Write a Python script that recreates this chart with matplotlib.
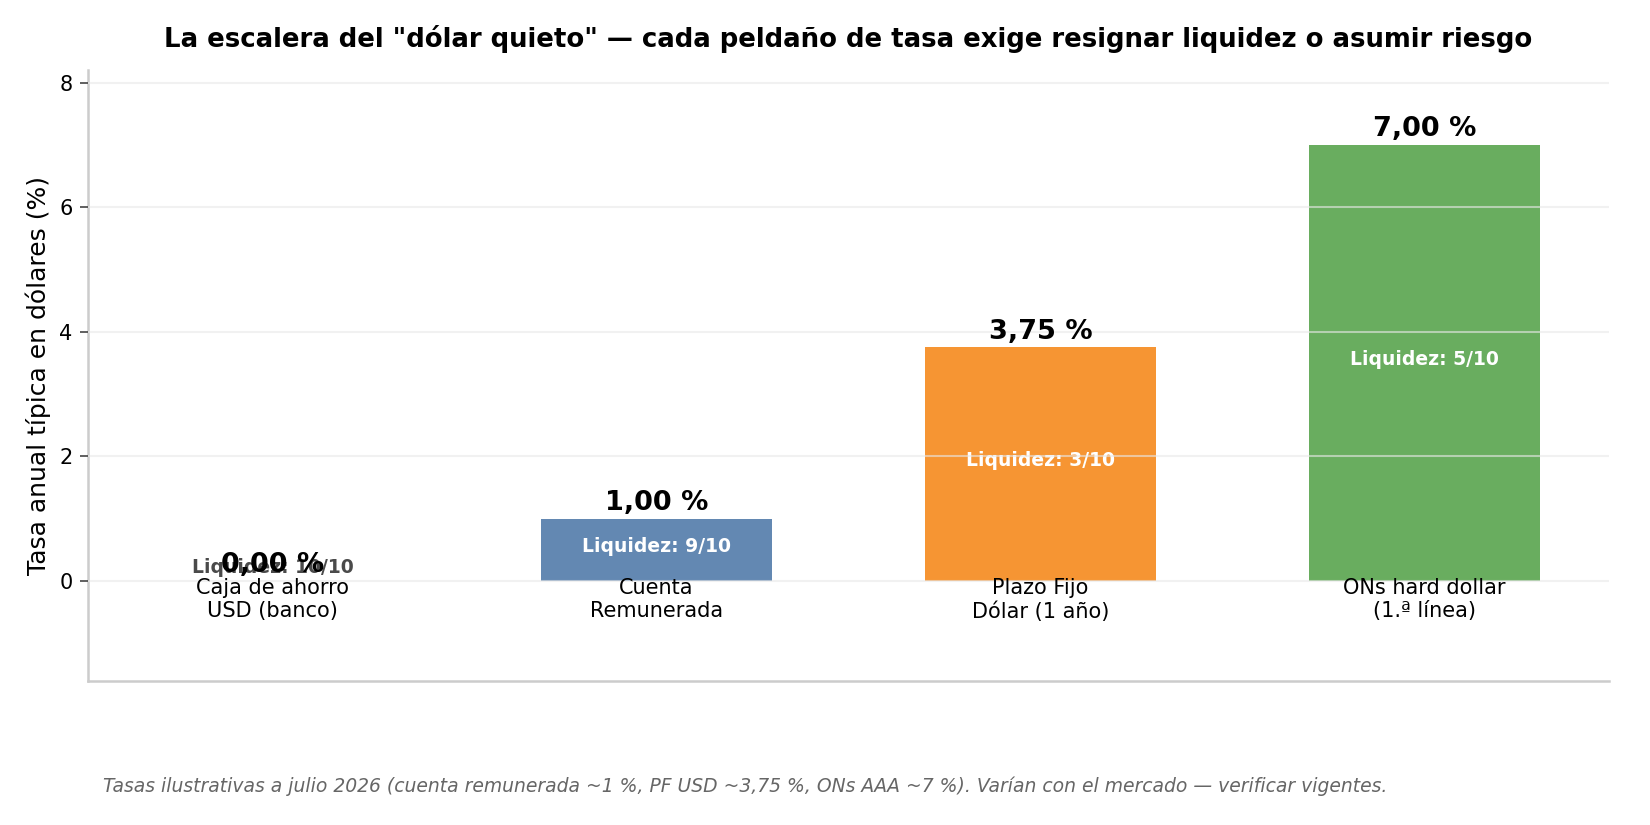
import matplotlib
matplotlib.use("Agg")
import matplotlib.pyplot as plt

categories = ["Caja de ahorro\nUSD (banco)", "Cuenta\nRemunerada", "Plazo Fijo\nDólar (1 año)", "ONs hard dollar\n(1.ª línea)"]
rates = [0.0, 1.0, 3.75, 7.0]
liquidity = [10, 9, 3, 5]
value_labels = ["0,00 %", "1,00 %", "3,75 %", "7,00 %"]
colors = ["#9aa5b1", "#6388b2", "#f69533", "#69ad5f"]
liq_colors = ["#4a4a4a", "white", "white", "white"]

plt.rcParams['font.family'] = ['DejaVu Sans']
fig, ax = plt.subplots(figsize=(11, 5.5), dpi=150)
fig.subplots_adjust(left=0.0535, right=0.975, top=0.915, bottom=0.175)

x = list(range(len(categories)))
ax.bar(x, rates, width=0.6, color=colors, zorder=1)
ax.set_ylim(-1.6, 8.2)
ax.set_yticks([0, 2, 4, 6, 8])
ax.yaxis.grid(True, color="#e8e8e8", alpha=0.6, linewidth=1, zorder=3)
ax.set_axisbelow(False)
ax.set_xticks([])
ax.tick_params(axis='y', labelsize=10, color="#444444", length=4)
for s in ["top", "right"]:
    ax.spines[s].set_visible(False)
for s in ["left", "bottom"]:
    ax.spines[s].set_color("#cccccc")
    ax.spines[s].set_linewidth(1.2)

for i, (r, lv, vl) in enumerate(zip(rates, liquidity, value_labels)):
    ax.text(i, r + 0.04, vl, ha='center', va='bottom', fontsize=13, fontweight='bold', zorder=4)
    ax.text(i, max(r / 2, 0.15) + 0.06, f"Liquidez: {lv}/10", ha='center', va='center',
            fontsize=9, fontweight='bold', color=liq_colors[i], zorder=2)
    ax.text(i, 0.05, categories[i], ha='center', va='top', fontsize=10, zorder=4)

ax.set_ylabel("Tasa anual típica en dólares (%)", fontsize=12, labelpad=4)
ax.set_title('La escalera del "dólar quieto" — cada peldaño de tasa exige resignar liquidez o asumir riesgo',
             fontsize=12.5, fontweight='bold', pad=11)
fig.text(0.0625, 0.04, "Tasas ilustrativas a julio 2026 (cuenta remunerada ~1 %, PF USD ~3,75 %, ONs AAA ~7 %). Varían con el mercado — verificar vigentes.",
         fontsize=9, style='italic', color="#666666")

fig.savefig("out.png", dpi=150, facecolor="white")
